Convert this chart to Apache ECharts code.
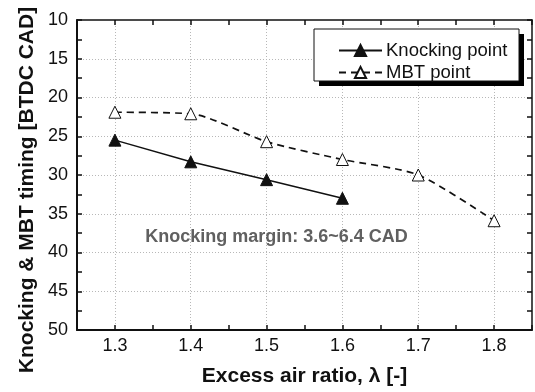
<!DOCTYPE html>
<html>
<head>
<meta charset="utf-8">
<script src="https://cdn.jsdelivr.net/npm/echarts@6/dist/echarts.min.js"></script>
<style>
  html, body { margin: 0; padding: 0; background: #fff; }
  #chart { width: 535px; height: 392px; }
</style>
</head>
<body>
<div id="chart"></div>
<script>
const lambdaKnock = [1.3, 1.4, 1.5, 1.6];
const knockTiming = [25.5, 28.3, 30.6, 33.0];
const lambdaMbt = [1.3, 1.4, 1.5, 1.6, 1.7, 1.8];
const mbtTiming = [21.9, 22.1, 25.7, 28.0, 30.0, 35.9];
const xLabels = [1.3, 1.4, 1.5, 1.6, 1.7, 1.8];
const xTicks = [1.25, 1.3, 1.35, 1.4, 1.45, 1.5, 1.55, 1.6, 1.65, 1.7, 1.75, 1.8, 1.85];
const yLabels = [10, 15, 20, 25, 30, 35, 40, 45, 50];
const yTicks = [10, 12.5, 15, 17.5, 20, 22.5, 25, 27.5, 30, 32.5, 35, 37.5, 40, 42.5, 45, 47.5, 50];
const xGrid = [1.3, 1.4, 1.5, 1.6, 1.7, 1.8];
const yGrid = [15, 20, 25, 30, 35, 40, 45];

const FONT = "'Liberation Sans', Arial, sans-serif";
const INK = "#111";

const chart = echarts.init(document.getElementById("chart"), null, { renderer: "canvas" });

const gridLine = { show: true, lineStyle: { color: "#b8b8b8", width: 1, type: [1, 2] } };

// legend frame: white box with hard black drop shadow
const BOX = { x: 314, y: 29, w: 205, h: 52, off: 5 };

const option = {
  animation: false,
  grid: { left: 77, top: 20, right: 3, bottom: 59 },
  xAxis: [
    {
      type: "value", position: "bottom", min: 1.25, max: 1.85,
      axisLine: { lineStyle: { color: INK, width: 2 } },
      axisTick: { inside: true, length: 5, customValues: xTicks, lineStyle: { color: INK, width: 1.5 } },
      axisLabel: { customValues: xLabels, margin: 7, color: INK, fontSize: 18, fontFamily: FONT,
        formatter: (v) => v.toFixed(1) },
      splitLine: { show: false },
      name: "Excess air ratio, \u03bb [-]", nameLocation: "middle", nameGap: 36,
      nameTextStyle: { color: INK, fontSize: 21, fontWeight: "bold", fontFamily: FONT },
    },
    {
      type: "value", position: "top", min: 1.25, max: 1.85,
      axisLine: { lineStyle: { color: INK, width: 1.5 } },
      axisTick: { inside: true, length: 5, customValues: xTicks, lineStyle: { color: INK, width: 1.5 } },
      axisLabel: { show: false },
      splitLine: { show: false },
    },
    {
      type: "value", position: "bottom", min: 1.25, max: 1.85,
      axisLine: { show: false },
      axisTick: { show: false, customValues: xGrid },
      axisLabel: { show: false },
      splitLine: gridLine,
    },
  ],
  yAxis: [
    {
      type: "value", position: "left", inverse: true, min: 10, max: 50,
      axisLine: { lineStyle: { color: INK, width: 2 } },
      axisTick: { inside: true, length: 5, customValues: yTicks, lineStyle: { color: INK, width: 1.5 } },
      axisLabel: { customValues: yLabels, margin: 9, color: INK, fontSize: 18, fontFamily: FONT },
      splitLine: { show: false },
    },
    {
      type: "value", position: "right", inverse: true, min: 10, max: 50,
      axisLine: { lineStyle: { color: INK, width: 1.5 } },
      axisTick: { inside: true, length: 5, customValues: yTicks, lineStyle: { color: INK, width: 1.5 } },
      axisLabel: { show: false },
      splitLine: { show: false },
    },
    {
      type: "value", position: "left", inverse: true, min: 10, max: 50,
      axisLine: { show: false },
      axisTick: { show: false, customValues: yGrid },
      axisLabel: { show: false },
      splitLine: gridLine,
    },
  ],
  legend: {
    left: 314, top: 28,
    orient: "vertical",
    padding: [13, 10, 3, 24],
    itemGap: 3, itemWidth: 43, itemHeight: 14,
    z: 10,
    textStyle: { color: INK, fontSize: 18.5, fontFamily: FONT, padding: [0, 0, 0, -1] },
    data: ["Knocking point", "MBT point"],
  },
  graphic: [
    {
      type: "rect", z: 8,
      shape: { x: BOX.x + BOX.off, y: BOX.y + BOX.off, width: BOX.w, height: BOX.h },
      style: { fill: "#000" },
    },
    {
      type: "rect", z: 9,
      shape: { x: BOX.x, y: BOX.y, width: BOX.w, height: BOX.h },
      style: { fill: "#fff", stroke: INK, lineWidth: 1 },
    },
    {
      type: "text", x: 27, y: 190, rotation: Math.PI / 2,
      style: { text: "Knocking & MBT timing [BTDC CAD]", fill: INK, font: "bold 21px " + FONT,
        align: "center", verticalAlign: "middle" },
    },
    {
      type: "text", x: 276.5, y: 237,
      style: { text: "Knocking margin: 3.6~6.4 CAD", fill: "#606060", font: "bold 18px " + FONT,
        align: "center", verticalAlign: "middle" },
    },
  ],
  series: [
    {
      name: "Knocking point", type: "line", xAxisIndex: 0, yAxisIndex: 0,
      data: lambdaKnock.map((x, i) => [x, knockTiming[i]]),
      symbol: "triangle", symbolSize: 12,
      lineStyle: { color: INK, width: 1.5 },
      itemStyle: { color: INK, borderColor: INK, borderWidth: 1 },
      z: 5,
    },
    {
      name: "MBT point", type: "line", xAxisIndex: 0, yAxisIndex: 0,
      data: lambdaMbt.map((x, i) => [x, mbtTiming[i]]),
      smooth: 0.25,
      symbol: "triangle", symbolSize: 12,
      lineStyle: { color: INK, width: 1.7, type: [7, 5] },
      itemStyle: { color: "#fff", borderColor: INK, borderWidth: 1 },
      z: 5,
    },
  ],
};

chart.setOption(option);
</script>
</body>
</html>
